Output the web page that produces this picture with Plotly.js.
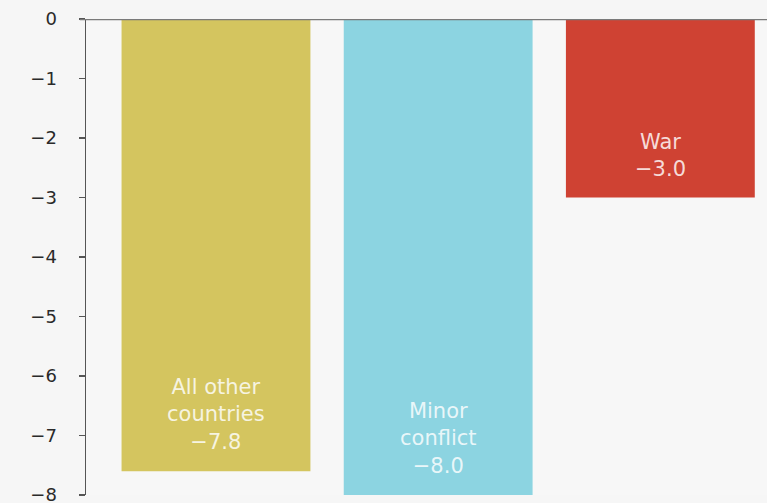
<!DOCTYPE html>
<html>
<head>
<meta charset="utf-8">
<script src="https://cdn.plot.ly/plotly-3.0.1.min.js"></script>
<style>html,body{margin:0;padding:0;background:#f6f6f6;}#chart{width:767px;height:503px;}</style>
</head>
<body>
<div id="chart"></div>
<script>
// Data
var categories = ["All other countries", "Minor conflict", "War"];
var barValues = [-7.6, -8.0, -3.0];            // bar lengths as drawn
var labelNames = ["All other<br>countries", "Minor<br>conflict", "War"];
var labelValues = [-7.8, -8.0, -3.0];          // values printed on the bars
var barColors = ["#d4c55f", "#8cd4e1", "#cf4233"];
var yTicks = [0, -1, -2, -3, -4, -5, -6, -7, -8];

function fmt(v) {
  var s = Math.abs(v).toFixed(1);
  return (v < 0 ? "\u2212" : "") + s;
}

var trace = {
  type: "bar",
  x: categories,
  y: barValues,
  marker: {color: barColors, line: {width: 0}},
  width: 0.85,
  hoverinfo: "skip"
};

var annotations = categories.map(function (c, i) {
  return {
    x: c, y: barValues[i], xref: "x", yref: "y",
    text: labelNames[i] + "<br>" + fmt(labelValues[i]),
    showarrow: false,
    yanchor: "bottom",
    yshift: 15,
    align: "center",
    font: {family: "DejaVu Sans", size: 21, color: "rgba(255,255,255,0.82)"}
  };
});

var layout = {
  width: 767, height: 503,
  margin: {l: 86, r: 0, t: 19, b: 8},
  paper_bgcolor: "#f6f6f6",
  plot_bgcolor: "#f7f7f7",
  showlegend: false,
  xaxis: {
    type: "category",
    range: [-0.585, 2.48],
    showticklabels: false,
    showgrid: false, zeroline: false, showline: false, ticks: ""
  },
  yaxis: {
    range: [-8, 0],
    tickvals: yTicks,
    ticktext: yTicks.map(function (v) { return (v < 0 ? "\u2212" : "") + Math.abs(v); }),
    ticks: "outside", ticklen: 6, tickwidth: 1.5, tickcolor: "#555",
    ticklabelstandoff: 18,
    ticklabeloverflow: "allow",
    showline: true, linecolor: "#555", linewidth: 1.5,
    showgrid: false, zeroline: false,
    tickfont: {family: "DejaVu Sans", size: 18, color: "#2a2a2a"}
  },
  shapes: [{
    type: "line", xref: "paper", yref: "y",
    x0: -0.009, x1: 1, y0: 0, y1: 0,
    line: {color: "#7a7a7a", width: 2.5},
    layer: "above"
  }],
  annotations: annotations
};

Plotly.newPlot("chart", [trace], layout, {displayModeBar: false, staticPlot: true});
</script>
</body>
</html>
